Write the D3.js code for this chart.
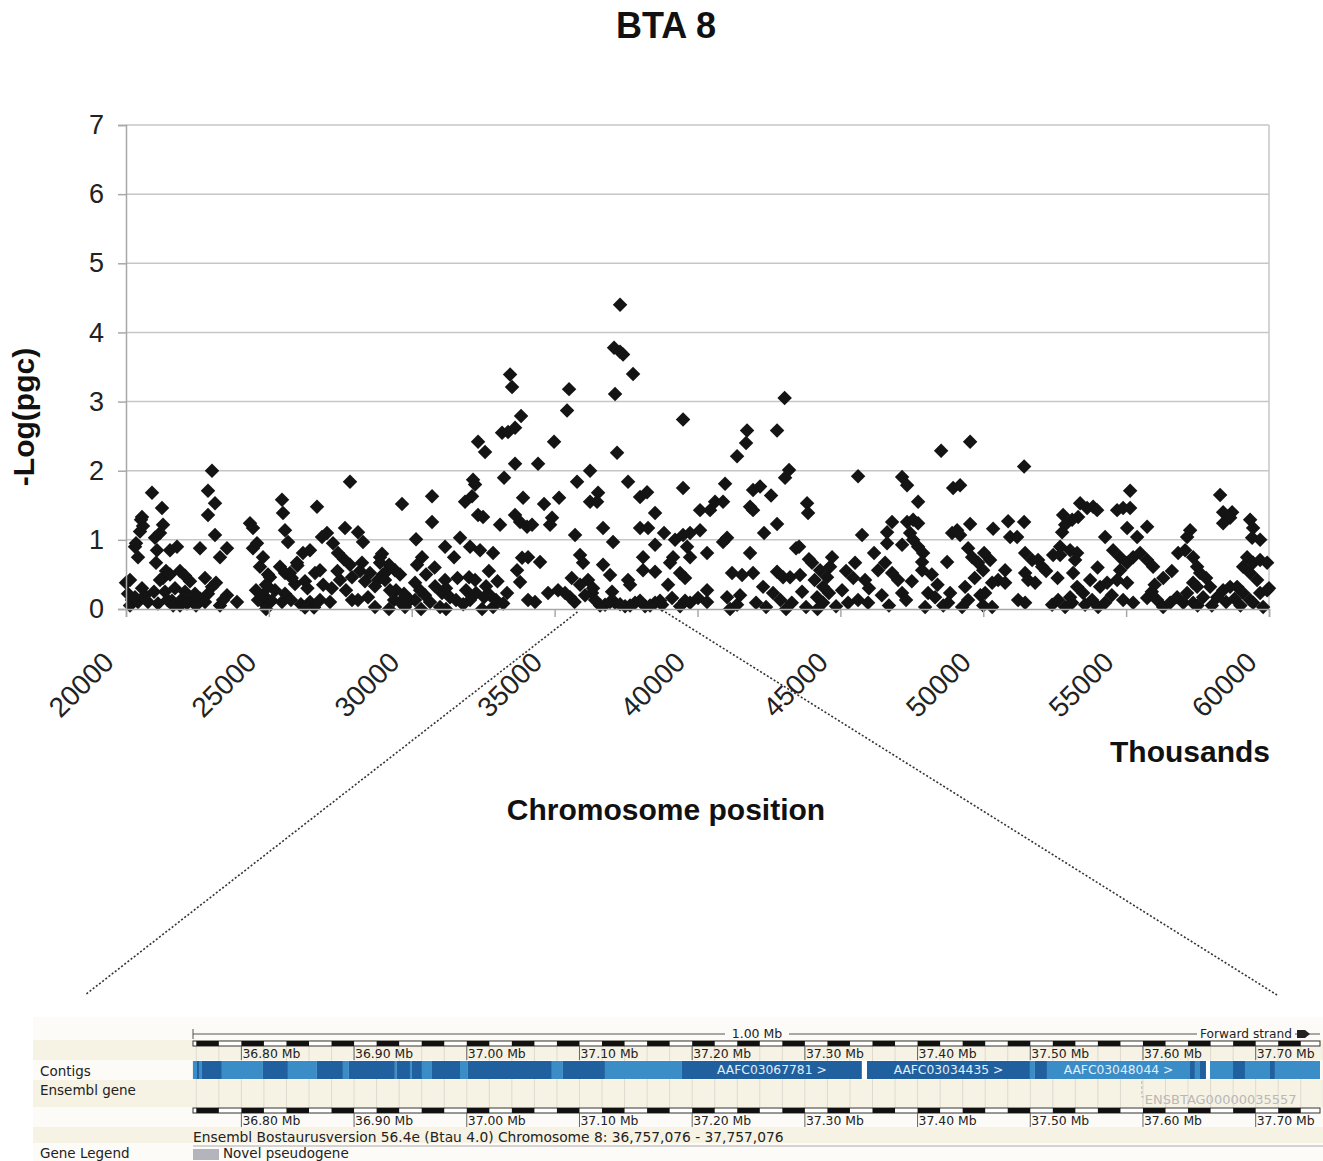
<!DOCTYPE html>
<html>
<head>
<meta charset="utf-8">
<script src="https://cdn.jsdelivr.net/npm/d3@7"></script>
<style>
  body { margin: 0; background: #fff; }
  text { font-family: "Liberation Sans", Arial, sans-serif; }
  .ens text { font-family: "DejaVu Sans", sans-serif; }
</style>
</head>
<body>
<svg></svg>
<script>
// chromosome position (thousands) , -log(pgc)
const seg20to25 = [
  [20000,0.38],[20140,0.05],[20210,0.13],[20070,0.22],[20140,0.42],[20315,0.9],[20420,0.75],[20350,0.95],
  [20525,1.29],[20595,1.2],[20490,1.12],[20560,1.33],[20665,0.2],[20420,0.1],[20315,0.17],[20910,1.68],
  [21015,1.03],[21085,0.85],[21050,0.67],[21260,1.46],[21295,1.22],[21190,1.1],[21540,0.85],[21785,0.9],
  [21295,0.45],[21400,0.55],[21540,0.5],[21890,0.55],[22065,0.48],[21610,0.12],[21890,0.05],[22310,0.15],
  [21715,0.3],[22065,0.25],[22240,0.4],[21190,0.42],[21365,0.25],[21450,0.13],[21650,0.05],[21995,0.16],
  [22135,0.08],[22415,0.22],[20560,0.3],[20770,0.1],[20980,0.25],[21120,0.08],[22600,0.15],[22450,0.05],
  [23010,2.0],[22870,1.71],[23115,1.53],[22870,1.36],[23115,1.07],[22590,0.88],[23535,0.88],[23290,0.75],
  [22765,0.45],[22870,0.22],[23010,0.32],[23150,0.38],[22765,0.1],[23290,0.05],[23535,0.2],[23400,0.13],
  [23885,0.1],[24340,1.24],[24445,1.17],[24585,0.95],[24445,0.88],[24795,0.75],[24970,0.5],[24900,0.35],
  [24795,0.2],[24900,0.05],[24690,0.61],[24620,0.13],[24550,0.27]
];
const seg25to30 = [
  [25040,0.46],[24970,0.32],[24970,0.13],[24900,0.0],[25390,0.61],[25740,0.52],[25985,0.67],[26195,0.81],
  [26440,0.85],[25215,0.27],[25565,0.22],[25915,0.36],[26265,0.4],[26615,0.52],[26790,0.56],[25100,0.12],
  [25460,0.1],[25775,0.13],[26120,0.07],[26440,0.1],[26790,0.13],[27140,0.1],[26580,0.02],[26265,0.02],
  [26685,1.48],[27035,1.1],[27245,0.95],[26860,1.04],[27420,0.81],[27630,0.72],[27840,0.64],[27910,0.46],
  [27665,1.17],[27840,1.84],[27490,0.42],[27700,0.27],[27910,0.13],[25460,1.58],[25495,1.39],[25565,1.14],
  [25670,0.97],[28120,1.11],[28295,0.97],[28260,0.67],[28190,0.55],[28365,0.4],[28120,0.13],[28470,0.17],
  [28715,0.03],[28890,0.75],[28960,0.8],[29205,0.64],[28995,0.5],[28820,0.42],[29660,1.52],[29415,0.56],
  [29590,0.5],[29450,0.27],[29730,0.22],[29380,0.13],[29205,0.0],[25565,0.52],[25800,0.45],[26000,0.63],
  [26350,0.3],[26900,0.35],[27200,0.3],[27400,0.55],[28540,0.52],[28890,0.67],[29065,0.52],[28715,0.33],
  [29065,0.42],[29240,0.27],[29590,0.1],[29765,0.03],[29940,0.13]
];
const seg30to35 = [
  [30150,1.01],[30360,0.75],[30185,0.64],[30710,1.63],[30710,1.26],[31165,0.9],[31480,0.75],[31690,1.03],
  [32040,0.9],[32390,0.85],[32845,0.81],[30115,0.38],[30290,0.27],[30115,0.13],[30465,0.2],[30640,0.1],
  [30325,0.0],[30815,0.33],[31060,0.23],[30990,0.03],[31165,0.42],[31340,0.17],[31200,0.0],[31550,0.13],
  [31865,1.55],[32110,1.63],[32215,1.8],[32145,1.87],[32320,1.36],[32495,1.33],[32320,2.42],[32565,2.27],
  [32005,0.46],[32215,0.42],[31900,0.27],[32250,0.23],[32040,0.13],[32530,0.17],[32600,0.33],[32740,0.2],
  [32845,0.03],[32950,0.13],[32460,0.0],[33090,1.22],[33230,1.9],[33160,2.55],[33370,2.56],[33615,2.62],
  [33440,3.39],[33510,3.21],[33825,2.79],[33615,2.1],[33615,1.36],[33790,1.26],[34035,1.19],[34210,1.22],
  [33895,1.61],[34420,2.1],[34630,1.52],[33860,0.74],[34070,0.75],[34490,0.68],[33685,0.56],[33790,0.39],
  [33335,0.23],[34070,0.13],[34315,0.1],[34770,0.23],[35120,0.27],[34910,1.32],[34840,1.22],[34980,2.42],
  [35155,1.61],[30500,0.5],[30800,0.6],[31200,0.3],[31600,0.45],[31800,0.07],[32700,0.55],[33000,0.4],
  [33200,0.08]
];
const seg35to40 = [
  [35505,3.18],[35435,2.87],[35540,0.17],[35715,1.07],[35785,1.84],[35890,0.78],[35995,0.67],[36170,0.42],
  [36310,0.23],[36240,2.0],[36240,1.55],[37290,4.4],[37080,3.78],[37290,3.72],[37395,3.68],[37745,3.4],
  [37115,3.11],[39495,2.74],[37185,2.26],[37570,1.84],[36520,1.68],[36485,1.55],[37990,1.62],[38235,1.69],
  [38515,1.39],[39495,1.75],[36695,1.17],[37045,0.97],[37990,1.17],[38270,1.17],[38830,1.1],[38515,0.93],
  [39215,1.0],[39495,1.07],[39740,1.1],[39635,0.9],[39740,0.75],[39145,0.75],[39040,0.67],[36695,0.64],
  [36940,0.49],[38095,0.75],[38095,0.56],[38515,0.54],[37570,0.42],[37640,0.35],[37010,0.25],[38970,0.35],
  [39390,0.52],[39565,0.45],[36415,0.13],[36765,0.06],[37115,0.09],[37465,0.04],[37815,0.09],[38165,0.04],
  [38515,0.09],[38760,0.06],[39110,0.16],[39390,0.04],[39740,0.09],[35365,0.23],[35700,0.1],[35890,0.35],
  [36065,0.2],[36345,0.3],[35600,0.45],[36590,0.05],[36940,0.1],[37290,0.07],[37640,0.05],[37990,0.12],
  [38340,0.05],[38690,0.12],[39565,0.12]
];
const seg40to45 = [
  [40090,1.14],[40020,0.16],[40090,1.43],[40440,1.43],[40615,1.55],[40895,1.55],[40965,1.81],[40335,0.81],
  [41035,1.03],[40895,0.97],[40335,0.27],[40335,0.1],[41035,0.17],[41385,0.06],[41140,0.0],[43050,3.05],
  [41735,2.58],[41700,2.4],[41385,2.21],[42785,2.58],[43205,2.01],[43065,1.9],[41840,1.48],[41945,1.43],
  [41945,1.72],[42190,1.77],[42575,1.64],[42785,1.23],[42330,1.1],[43835,1.53],[43870,1.39],[41840,0.81],
  [43450,0.88],[41560,0.49],[41945,0.52],[42295,0.32],[42645,0.23],[42785,0.54],[42995,0.46],[43240,0.46],
  [43590,0.49],[43660,0.25],[44010,0.67],[44290,0.56],[44535,0.46],[44395,0.32],[44185,0.17],[44395,0.09],
  [41210,0.52],[41490,0.2],[42050,0.09],[42400,0.03],[42900,0.13],[43300,0.09],[43555,0.9],[43900,0.72],
  [44100,0.42],[44600,0.23],[44850,0.04],[44200,0.0],[43800,0.03],[43100,0.0],[44710,0.75],[44640,0.61]
];
const seg45to50 = [
  [45620,1.92],[47160,1.91],[47335,1.79],[47720,1.55],[48525,2.29],[49540,2.42],[48945,1.75],[49190,1.79],
  [46810,1.26],[46635,1.11],[47335,1.26],[47545,1.29],[47720,1.24],[45760,1.07],[47440,1.1],[47545,1.0],
  [47720,0.9],[47895,0.81],[47860,0.68],[47860,0.56],[47160,0.93],[46635,0.95],[46180,0.81],[45515,0.67],
  [45865,0.42],[46320,0.56],[46565,0.67],[46810,0.52],[45060,0.27],[45270,0.09],[45620,0.13],[45970,0.09],
  [47020,0.42],[47160,0.23],[47300,0.13],[48070,0.23],[47965,0.03],[48315,0.17],[48735,0.68],[48910,1.1],
  [49085,1.14],[49190,1.07],[49540,1.23],[49470,0.88],[49610,0.75],[49820,0.67],[48840,0.23],[48770,0.09],
  [49365,0.32],[49470,0.13],[49260,0.03],[45450,0.45],[45200,0.55],[46000,0.3],[46450,0.2],[46700,0.05],
  [47500,0.4],[48200,0.5],[48400,0.35],[48600,0.05],[49700,0.45],[49900,0.2],[50000,0.05]
];
const seg50to55 = [
  [50030,0.81],[50240,0.71],[49995,0.56],[50345,1.16],[50870,1.27],[51430,1.26],[51430,2.06],[50940,1.04],
  [51185,1.04],[50765,0.56],[50520,0.42],[50765,0.38],[50310,0.38],[50065,0.23],[50310,0.03],[51465,0.81],
  [51710,0.71],[51920,0.71],[52060,0.61],[51465,0.52],[51570,0.42],[51815,0.38],[51220,0.13],[51465,0.09],
  [52445,0.78],[52690,0.9],[52690,0.78],[53040,0.85],[53285,0.81],[53215,0.71],[53390,1.53],[53635,1.46],
  [53845,1.48],[53985,1.43],[52795,1.36],[53110,1.29],[52865,1.22],[53320,1.33],[52760,1.11],[54265,1.04],
  [53145,0.52],[53285,0.32],[53040,0.17],[53495,0.23],[53740,0.42],[54090,0.32],[54335,0.38],[52410,0.06],
  [52620,0.13],[52865,0.03],[53110,0.09],[53565,0.06],[53810,0.13],[54020,0.03],[54265,0.09],[54685,1.43],
  [54895,1.46],[55140,1.46],[55140,1.71],[55035,1.17],[54545,0.85],[54790,0.75],[55035,0.67],[54790,0.56],
  [55035,0.38],[54685,0.42],[54895,0.13],[52200,0.55],[52600,0.45],[54000,0.6],[54500,0.2]
];
const seg55to60 = [
  [55385,1.04],[55735,1.19],[55245,0.75],[55490,0.81],[55735,0.71],[55945,0.61],[55245,0.09],[55735,0.16],
  [56085,0.13],[56295,0.03],[56540,0.09],[56785,0.17],[56820,0.81],[57065,0.85],[57135,1.04],[57240,1.14],
  [57345,0.75],[57485,0.61],[57590,0.52],[57345,0.38],[57135,0.23],[57000,0.09],[58290,1.65],[58395,1.4],
  [58710,1.4],[58395,1.24],[58640,1.32],[59340,1.29],[59445,1.17],[59410,1.03],[59690,1.0],[59235,0.75],
  [59445,0.67],[59690,0.71],[59935,0.67],[59095,0.61],[59340,0.52],[59585,0.42],[57940,0.32],[58185,0.17],
  [58395,0.27],[58640,0.32],[58885,0.32],[59095,0.23],[59340,0.13],[59690,0.23],[59935,0.27],[59795,0.03],
  [59445,0.09],[57485,0.32],[57695,0.17],[57345,0.09],[56000,0.35],[56300,0.45],[56600,0.55],[55900,0.25],
  [58000,0.05],[58500,0.1],[58800,0.15],[59000,0.05],[60000,0.3],[57800,0.45],[57500,0.05]
];

const xTicks = [20000, 25000, 30000, 35000, 40000, 45000, 50000, 55000, 60000];
const yTicks = [0, 1, 2, 3, 4, 5, 6, 7];
const zoomWindow = [35800, 38870]; // thousands, region shown in the Ensembl view

// Ensembl view (Mb)
const ensRange = [36.757076, 37.757076];
const ensTicks = [36.8, 36.9, 37.0, 37.1, 37.2, 37.3, 37.4, 37.5, 37.6, 37.7];
const contigStarts = [36.757, 36.7606, 36.7624, 36.765, 36.7827, 36.8191, 36.8413, 36.867, 36.8901, 36.8954,
  36.9362, 36.938, 36.9496, 36.9513, 36.9602, 36.9691, 36.994, 37.001, 37.0755, 37.0853, 37.1226, 37.1909,
  37.3506, 37.3551, 37.4997, 37.5041, 37.5148, 37.6417, 37.6461, 37.6506, 37.6559, 37.6595, 37.6799, 37.6905,
  37.7127, 37.7171];
const contigShades = ['l','d','l','d','l','d','l','d','l','d','l','d','l','d','l','d','l','d','l','d','l','d',
  'g','d','l','d','l','d','l','d','g','l','d','l','d','l'];
const contigLabels = { 21: 'AAFC03067781 >', 23: 'AAFC03034435 >', 26: 'AAFC03048044 >' };
const gene = { name: 'ENSBTAG00000035557', start: 37.599 };

const data = [].concat(seg20to25, seg25to30, seg30to35, seg35to40, seg40to45, seg45to50, seg50to55, seg55to60);

const width = 1323, height = 1161;
const svg = d3.select('svg').attr('width', width).attr('height', height);

const plot = { left: 126, right: 1269, top: 125, bottom: 609 };

const xScale = d3.scaleLinear().domain([20000, 60000]).range([plot.left, plot.right]);
const yScale = d3.scaleLinear().domain([0, 7]).range([plot.bottom, plot.top]);

// grid
svg.append('g').selectAll('line').data(yTicks.filter(d => d > 0)).join('line')
  .attr('x1', plot.left).attr('x2', plot.right)
  .attr('y1', d => yScale(d)).attr('y2', d => yScale(d))
  .attr('stroke', '#c6c6c6').attr('stroke-width', 1.5);
svg.append('line')
  .attr('x1', plot.right).attr('x2', plot.right).attr('y1', plot.top).attr('y2', plot.bottom)
  .attr('stroke', '#c6c6c6').attr('stroke-width', 1.5);

// points
const diamond = d3.symbol(d3.symbolSquare).size(105);
svg.append('g').selectAll('path').data(data).join('path')
  .attr('d', diamond)
  .attr('transform', d => `translate(${xScale(d[0])},${yScale(d[1])}) rotate(45)`)
  .attr('fill', '#141414');

// axes
const yAxis = d3.axisLeft(yScale).tickValues(yTicks).tickSize(8).tickPadding(14).tickFormat(d3.format('d'));
const yAxisG = svg.append('g').attr('transform', `translate(${plot.left},0)`).call(yAxis);
yAxisG.select('.domain').attr('stroke', '#a8a8a8').attr('stroke-width', 1.5);
yAxisG.selectAll('.tick line').attr('stroke', '#a8a8a8').attr('stroke-width', 1.5);
yAxisG.selectAll('.tick text').attr('font-size', 27).attr('fill', '#222')
  .attr('font-family', '"Liberation Sans", Arial, sans-serif');

const xAxis = d3.axisBottom(xScale).tickValues(xTicks).tickSize(8).tickFormat(d3.format('d'));
const xAxisG = svg.append('g').attr('transform', `translate(0,${plot.bottom})`).call(xAxis);
xAxisG.select('.domain').attr('stroke', '#a8a8a8').attr('stroke-width', 1.5);
xAxisG.selectAll('.tick line').attr('stroke', '#a8a8a8').attr('stroke-width', 1.5);
xAxisG.selectAll('.tick text')
  .attr('font-size', 28).attr('fill', '#222')
  .attr('font-family', '"Liberation Sans", Arial, sans-serif')
  .attr('text-anchor', 'end').attr('dy', null).attr('y', null)
  .attr('transform', 'translate(-11,55) rotate(-45)');

// titles
svg.append('text').attr('x', 666).attr('y', 38).attr('text-anchor', 'middle')
  .attr('font-size', 36).attr('font-weight', 'bold').attr('fill', '#111').text('BTA 8');
svg.append('text').attr('transform', 'translate(34,417) rotate(-90)').attr('text-anchor', 'middle')
  .attr('font-size', 30).attr('font-weight', 'bold').attr('fill', '#111').text('-Log(pgc)');
svg.append('text').attr('x', 1270).attr('y', 762).attr('text-anchor', 'end')
  .attr('font-size', 30).attr('font-weight', 'bold').attr('fill', '#111').text('Thousands');
svg.append('text').attr('x', 666).attr('y', 820).attr('text-anchor', 'middle')
  .attr('font-size', 30).attr('font-weight', 'bold').attr('fill', '#111').text('Chromosome position');

// zoom lines
svg.append('line').attr('x1', xScale(zoomWindow[0])).attr('y1', 612).attr('x2', 85).attr('y2', 995)
  .attr('stroke', '#333').attr('stroke-width', 1.6).attr('stroke-dasharray', '2,2');
svg.append('line').attr('x1', xScale(zoomWindow[1])).attr('y1', 612).attr('x2', 1277).attr('y2', 995)
  .attr('stroke', '#333').attr('stroke-width', 1.6).attr('stroke-dasharray', '2,2');

// Ensembl view
const ens = svg.append('g').attr('class', 'ens');
const mb = d3.scaleLinear().domain(ensRange).range([193, 1320]);

ens.append('rect').attr('x', 33).attr('y', 1017).attr('width', 1290).attr('height', 144).attr('fill', '#fcfbf7');
[[1040, 20], [1080, 27], [1127, 16]].forEach(([y, h]) => {
  ens.append('rect').attr('x', 33).attr('y', y).attr('width', 1290).attr('height', h).attr('fill', '#f6f2e4');
});

// faint grid every 0.02 Mb
const minor = d3.range(36.76, 37.7601, 0.02);
ens.append('g').selectAll('line').data(minor).join('line')
  .attr('x1', d => mb(d)).attr('x2', d => mb(d)).attr('y1', 1046).attr('y2', 1108)
  .attr('stroke', '#dedad0').attr('stroke-width', 1);

// top scale line
ens.append('line').attr('x1', 193).attr('x2', 1320).attr('y1', 1034).attr('y2', 1034).attr('stroke', '#555');
ens.append('line').attr('x1', 193).attr('x2', 193).attr('y1', 1029).attr('y2', 1039).attr('stroke', '#555');
ens.append('rect').attr('x', 725).attr('y', 1027).attr('width', 64).attr('height', 13).attr('fill', '#fcfbf7');
ens.append('text').attr('x', 757).attr('y', 1038).attr('text-anchor', 'middle').attr('font-size', 12.5)
  .attr('fill', '#222').text('1.00 Mb');
ens.append('rect').attr('x', 1197).attr('y', 1027).attr('width', 98).attr('height', 13).attr('fill', '#fcfbf7');
ens.append('text').attr('x', 1200).attr('y', 1038).attr('font-size', 12.2).attr('fill', '#222').text('Forward strand');
ens.append('path').attr('d', 'M1297,1030 h8 l5,4 l-5,4 h-8 z').attr('fill', '#222');

function ruler(yBar, yLabel) {
  const g = ens.append('g');
  const edges = [ensRange[0]].concat(minor.filter(d => d > ensRange[0] && d < ensRange[1]), [ensRange[1]]);
  g.append('rect').attr('x', 193).attr('y', yBar).attr('width', 1127).attr('height', 5)
    .attr('fill', '#fff').attr('stroke', '#333').attr('stroke-width', 1);
  g.selectAll('rect.blk').data(d3.pairs(edges).filter((p, i) => i % 2 === 1)).join('rect')
    .attr('class', 'blk')
    .attr('x', p => mb(p[0])).attr('width', p => mb(p[1]) - mb(p[0]))
    .attr('y', yBar).attr('height', 5).attr('fill', '#111');
  g.selectAll('line').data(ensTicks).join('line')
    .attr('x1', d => mb(d)).attr('x2', d => mb(d)).attr('y1', yBar + 5).attr('y2', yLabel + 2)
    .attr('stroke', '#666');
  g.selectAll('text').data(ensTicks).join('text')
    .attr('x', d => mb(d) + 1).attr('y', yLabel).attr('font-size', 12.4).attr('fill', '#222')
    .text(d => d3.format('.2f')(d) + ' Mb');
}
ruler(1041, 1058);
ruler(1108, 1125);

// contigs
const contigs = contigStarts.map((s, i) => ({
  start: s, end: i + 1 < contigStarts.length ? contigStarts[i + 1] : ensRange[1],
  shade: contigShades[i], label: contigLabels[i]
}));
const shadeColor = { d: '#20609f', l: '#3a8dc7', g: '#ffffff' };
ens.append('g').selectAll('rect').data(contigs).join('rect')
  .attr('x', d => mb(d.start)).attr('width', d => Math.max(0.5, mb(d.end) - mb(d.start)))
  .attr('y', 1061).attr('height', 18).attr('fill', d => shadeColor[d.shade]);
ens.append('g').selectAll('text').data(contigs.filter(d => d.label)).join('text')
  .attr('x', d => (mb(d.start) + mb(d.end)) / 2).attr('y', 1074).attr('text-anchor', 'middle')
  .attr('font-size', 12.3).attr('fill', '#e4eef8').text(d => d.label);

// gene
ens.append('path').attr('d', `M${mb(gene.start)},1081 V1097 h5`).attr('fill', 'none')
  .attr('stroke', '#b5b5b5').attr('stroke-dasharray', '3,2');
ens.append('text').attr('x', mb(gene.start) + 3).attr('y', 1104).attr('font-size', 13)
  .attr('fill', '#b8b8b8').text(gene.name);

// labels
ens.append('text').attr('x', 40).attr('y', 1076).attr('font-size', 13.5).attr('fill', '#222').text('Contigs');
ens.append('text').attr('x', 40).attr('y', 1095).attr('font-size', 13.5).attr('fill', '#222').text('Ensembl gene');
ens.append('text').attr('x', 193).attr('y', 1142).attr('font-size', 13.8).attr('fill', '#222')
  .text('Ensembl Bostaurusversion 56.4e (Btau 4.0) Chromosome 8: 36,757,076 - 37,757,076');
ens.append('line').attr('x1', 193).attr('x2', 1323).attr('y1', 1146).attr('y2', 1146).attr('stroke', '#aaa');
ens.append('text').attr('x', 40).attr('y', 1158).attr('font-size', 13.5).attr('fill', '#222').text('Gene Legend');
ens.append('rect').attr('x', 193).attr('y', 1149).attr('width', 26).attr('height', 11).attr('fill', '#b4b4bc');
ens.append('text').attr('x', 223).attr('y', 1158).attr('font-size', 13.5).attr('fill', '#222').text('Novel pseudogene');
</script>
</body>
</html>
